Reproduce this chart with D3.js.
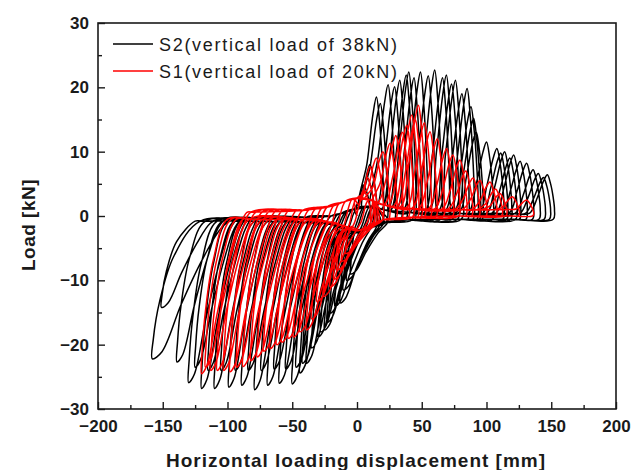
<!DOCTYPE html>
<html>
<head>
<meta charset="utf-8">
<script src="https://cdn.jsdelivr.net/npm/d3@7"></script>
<style>
  body { margin: 0; background: #fff; }
  svg { display: block; }
  text { font-family: "Liberation Sans", Arial, sans-serif; }
</style>
</head>
<body>
<svg id="chart" width="632" height="470"></svg>
<script>
// ---------------- data ----------------
const xTicks = [-200, -150, -100, -50, 0, 50, 100, 150, 200];
const yTicks = [-30, -20, -10, 0, 10, 20, 30];
const xMinor = [-175, -125, -75, -25, 25, 75, 125, 175];
const yMinor = [-25, -15, -5, 5, 15, 25];
const seriesNames = ["S2(vertical load of 38kN)", "S1(vertical load of 20kN)"];

// S2 (38 kN): peak of each positive / negative half-cycle [mm, kN]
const s2PosDisp = [5, 8, 10, 15, 18, 24, 29, 33, 38, 40, 44, 49, 55, 60, 66, 69, 73, 76, 81, 85,
                   88, 90, 92, 100, 108, 111, 114, 118, 121, 126, 131, 136, 140, 144, 147];
const s2PosLoad = [4.8, 6, 8, 18.5, 17.5, 20.4, 20.1, 21.1, 21.9, 22.4, 21.5, 22.4, 21.8, 22.7, 21.5, 21.9, 20.5, 21.1, 19, 19.8,
                   17, 15.2, 13.1, 11.5, 10.5, 9.8, 10.0, 9, 9.5, 8.5, 8.2, 7.2, 6.6, 6, 6.4];
const s2NegDisp = [-5, -8, -10.6, -13, -17, -21, -23, -25, -28, -30, -35, -39, -42, -44, -47, -50, -55, -60, -64, -69,
                   -74, -79, -84, -89, -94, -99, -105, -110, -115, -120, -125, -130, -139, -151, -158];
const s2NegLoad = [-9, -10, -11.5, -13.5, -14, -15.1, -16.5, -17.7, -18, -18.8, -20.5, -22.9, -22.9, -24.4, -23.5, -26.1, -23.8, -26.0, -23.8, -26.3,
                   -24, -27.0, -24, -26.3, -24, -26.6, -24, -26.8, -24, -26.8, -23.5, -25.9, -22.7, -14.2, -22.2];
// displacement travelled while the load drops to each negative peak
const s2NegSpan = [8, 9, 10, 12, 14, 16, 17, 18, 18, 18, 19, 20, 20, 20, 20, 20, 20, 20, 20, 20,
                   20, 20, 20, 20, 20, 20, 20, 20, 20, 20, 21, 22, 22, 26, 37];

// S1 (20 kN)
const s1PosDisp = [5, 8, 10, 15, 20, 25.5, 30, 35, 38.4, 42.3, 45, 47.4, 52, 56.4, 62, 69.2, 74, 79.5, 84, 89.6,
                   95, 102.7, 107, 110.4, 120, 131];
const s1PosLoad = [4, 6, 7.7, 9, 10, 11.3, 12.5, 13, 14.1, 15.7, 15, 17.2, 14.5, 13.1, 12, 10.5, 9.5, 8.7, 7, 5.9,
                   5.5, 5.3, 4.2, 3.5, 3, 2.5];
const s1NegDisp = [-9, -12, -15.7, -18, -20.8, -26, -31, -35, -39, -44, -49, -53, -58, -62, -67, -72, -77, -82, -88, -93,
                   -98, -103, -108, -113, -117, -120];
const s1NegLoad = [-5.8, -7, -8.4, -9.8, -11, -12.5, -13.3, -16, -17.7, -18, -18.8, -19, -19.6, -20, -20.6, -21, -21.9, -22.5, -23.4, -23.5,
                   -24.2, -24, -24, -24, -23.5, -24.5];
const s1NegSpan = [10, 11, 12, 13, 14, 16, 18, 18, 18, 19, 20, 20, 20, 20, 20, 20, 20, 20, 20, 20,
                   20, 20, 20, 20, 20, 20];

// residual-load path between half-cycles [mm, kN]
const bandDisp = [-160, -120, -80, -40, -20, -10, 0, 10, 20, 40, 80, 120, 155];
const s2BandRight = [-0.5, -0.4, -0.3, -0.2, 0, 0.5, 1.2, 1.5, 1.0, 0.6, 0.4, 0.4, 0.4];
const s2BandLeft = [-0.8, -0.8, -0.8, -1.0, -1.3, -2.0, -2.6, -1.8, -1.0, -0.6, -0.5, -0.5, -0.5];
const s1BandRight = [0.3, 0.4, 0.6, 0.9, 1.5, 2.2, 2.8, 2.5, 1.8, 1.2, 1.0, 1.0, 1.0];
const s1BandLeft = [-0.5, -0.5, -0.5, -0.6, -1.0, -1.6, -2.3, -1.5, -0.6, -0.2, 0, 0, 0];

// ---------------- layout ----------------
const svg = d3.select("#chart");
const plot = { left: 98, top: 23, right: 616, bottom: 409 };
const x = d3.scaleLinear().domain([-200, 200]).range([plot.left, plot.right]);
const y = d3.scaleLinear().domain([-30, 30]).range([plot.bottom, plot.top]);

const series = [
  { name: seriesNames[0], color: "#000000",
    posD: s2PosDisp, posF: s2PosLoad, negD: s2NegDisp, negF: s2NegLoad, span: s2NegSpan,
    right: s2BandRight, left: s2BandLeft },
  { name: seriesNames[1], color: "#ff0000",
    posD: s1PosDisp, posF: s1PosLoad, negD: s1NegDisp, negF: s1NegLoad, span: s1NegSpan,
    right: s1BandRight, left: s1BandLeft }
];

// Build the loading path of one specimen: cycles in order, each one a push to the
// positive peak followed by a pull to the negative peak, joined by the residual path.
function loopPoints(s) {
  const bandR = d3.scaleLinear().domain(bandDisp).range(s.right).clamp(true);
  const bandL = d3.scaleLinear().domain(bandDisp).range(s.left).clamp(true);
  const pts = [[0, 0]];
  let cur = 0;
  const along = (from, to, band) => {
    // residual-path vertices strictly between two displacements
    const lo = Math.min(from, to), hi = Math.max(from, to);
    const inside = bandDisp.map((d, i) => i).filter(i => bandDisp[i] > lo + 3 && bandDisp[i] < hi - 3);
    if (to < from) inside.reverse();
    inside.forEach(i => pts.push([bandDisp[i], band === "R" ? s.right[i] : s.left[i]]));
  };
  for (let i = 0; i < s.posD.length; i++) {
    const dp = s.posD[i], fp = s.posF[i];
    const wp = Math.min(14, 4 + dp * 0.6);
    const startP = dp - wp;
    along(cur, startP, "R");
    pts.push([startP, bandR(startP)]);
    pts.push([dp - 0.55 * wp, fp * 0.45]);
    pts.push([dp - 0.2 * wp, fp * 0.86]);
    pts.push([dp, fp]);
    pts.push([dp + 2.5, fp * 0.78]);
    pts.push([dp + 4.5, fp * 0.45]);
    pts.push([dp + 5.5, fp * 0.15]);
    const endP = dp + 4.5;
    pts.push([endP, bandL(endP)]);
    cur = endP;

    const dn = s.negD[i], fn = s.negF[i], w = s.span[i];
    const k = Math.max(1, w / 20);
    const startN = dn + w;
    along(cur, startN, "L");
    pts.push([startN, bandL(startN)]);
    pts.push([dn + 0.45 * w, fn * 0.28]);
    pts.push([dn + 0.15 * w, fn * 0.6]);
    pts.push([dn + 0.02 * w, fn * 0.86]);
    pts.push([dn, fn]);
    pts.push([dn + 4 * k, fn * 0.95]);
    pts.push([dn + 12 * k, fn * 0.62]);
    pts.push([dn + 21 * k, fn * 0.3]);
    pts.push([dn + 29 * k, fn * 0.08]);
    const endN = Math.min(dn + 35 * k, 12);
    pts.push([endN, bandR(endN)]);
    cur = endN;
  }
  along(cur, 0, "R");
  pts.push([0, bandR(0)]);
  return pts;
}

// ---------------- curves ----------------
svg.append("clipPath").attr("id", "plotClip")
  .append("rect")
  .attr("x", plot.left).attr("y", plot.top)
  .attr("width", plot.right - plot.left).attr("height", plot.bottom - plot.top);

const line = d3.line()
  .x(d => x(d[0]))
  .y(d => y(d[1]))
  .curve(d3.curveCatmullRom.alpha(0.5));

const curves = svg.append("g").attr("clip-path", "url(#plotClip)");
series.forEach(s => {
  curves.append("path")
    .attr("d", line(loopPoints(s)))
    .attr("fill", "none")
    .attr("stroke", s.color)
    .attr("stroke-width", 1.5)
    .attr("stroke-linejoin", "round");
});

// ---------------- axes ----------------
const axisColor = "#1a1a1a";
const fmt = d => d < 0 ? "\u2212" + Math.abs(d) : d;
const xAxis = svg.append("g").attr("transform", `translate(0,${plot.bottom})`)
  .call(d3.axisBottom(x).tickValues(xTicks).tickSizeInner(-7).tickSizeOuter(0).tickPadding(11).tickFormat(fmt));
const yAxis = svg.append("g").attr("transform", `translate(${plot.left},0)`)
  .call(d3.axisLeft(y).tickValues(yTicks).tickSizeInner(-7).tickSizeOuter(0).tickPadding(9).tickFormat(fmt));
svg.append("g").attr("transform", `translate(0,${plot.bottom})`)
  .call(d3.axisBottom(x).tickValues(xMinor).tickSizeInner(-4).tickSizeOuter(0).tickFormat(""));
svg.append("g").attr("transform", `translate(${plot.left},0)`)
  .call(d3.axisLeft(y).tickValues(yMinor).tickSizeInner(-4).tickSizeOuter(0).tickFormat(""));

svg.selectAll(".domain").remove();
svg.selectAll(".tick line").attr("stroke", axisColor).attr("stroke-width", 1.4);
[xAxis, yAxis].forEach(a => a.selectAll("text")
  .attr("fill", "#1a1a1a")
  .style("font-size", "17px")
  .style("font-weight", "bold"));

svg.append("rect")
  .attr("x", plot.left).attr("y", plot.top)
  .attr("width", plot.right - plot.left).attr("height", plot.bottom - plot.top)
  .attr("fill", "none").attr("stroke", axisColor).attr("stroke-width", 1.6);

// axis titles
svg.append("text")
  .attr("x", (plot.left + plot.right) / 2 - 1).attr("y", 467)
  .attr("text-anchor", "middle")
  .style("font-size", "19px").style("font-weight", "bold").style("letter-spacing", "1px")
  .attr("fill", "#1a1a1a")
  .text("Horizontal loading displacement [mm]");
svg.append("text")
  .attr("transform", `translate(35,${(plot.top + plot.bottom) / 2 + 9}) rotate(-90)`)
  .attr("text-anchor", "middle")
  .style("font-size", "19px").style("font-weight", "bold").style("letter-spacing", "0.5px")
  .attr("fill", "#1a1a1a")
  .text("Load [kN]");

// ---------------- legend ----------------
const legend = svg.append("g");
series.forEach((s, i) => {
  const ly = 44 + i * 27;
  legend.append("line")
    .attr("x1", 113).attr("x2", 153).attr("y1", ly).attr("y2", ly)
    .attr("stroke", s.color).attr("stroke-width", 1.5);
  legend.append("text")
    .attr("x", 159).attr("y", ly + 6.5)
    .style("font-size", "18px").style("letter-spacing", "1.7px")
    .attr("fill", "#1a1a1a")
    .text(s.name);
});
</script>
</body>
</html>
